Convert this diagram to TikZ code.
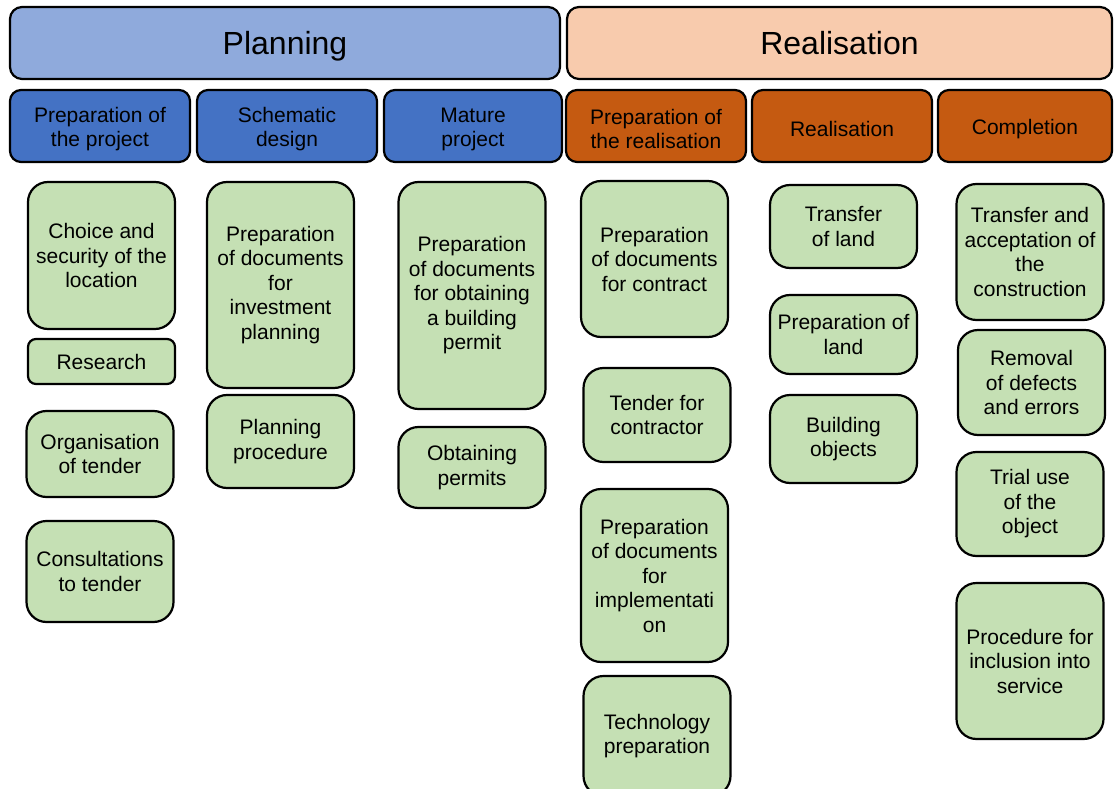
\documentclass[tikz,border=0pt]{standalone}
\usepackage{fontspec}
\setmainfont{Liberation Sans}
\definecolor{planblue}{HTML}{8FAADC}
\definecolor{stageblue}{HTML}{4472C4}
\definecolor{realpeach}{HTML}{F8CBAD}
\definecolor{stageorange}{HTML}{C55A11}
\definecolor{taskgreen}{HTML}{C5E0B4}
\newcommand{\stagetop}{\rule{0pt}{21pt}}
\begin{document}
\begin{tikzpicture}
[x=1pt, y=-1pt, every node/.style={inner sep=0pt, align=center, line width=2.2pt, draw=black},
 phase/.style={rounded corners=12pt, minimum height=72pt, text depth=0pt, font=\fontsize{32}{36}\selectfont},
 stage/.style={rounded corners=11pt, minimum height=72pt, font=\fontsize{21}{24.5}\selectfont},
 task/.style={rounded corners=20pt, fill=taskgreen, minimum width=147pt, font=\fontsize{21}{24.5}\selectfont}]
\useasboundingbox (0,0) rectangle (1114,789);
\clip (0,0) rectangle (1114,789);
% phases
\node (plan) [phase, fill=planblue, minimum width=550pt] at (285, 43) {Planning};
\node (realis) [phase, fill=realpeach, minimum width=545pt] at (839.5, 43) {Realisation};
% stages
\node (prepproj) [stage, fill=stageblue, minimum width=180pt] at (100, 126) {\stagetop Preparation of\\the project};
\node (schematic) [stage, fill=stageblue, minimum width=180pt] at (287, 126) {\stagetop Schematic\\design};
\node (mature) [stage, fill=stageblue, minimum width=178pt] at (473, 126) {\stagetop Mature\\project};
\node (preprealis) [stage, fill=stageorange, minimum width=180pt] at (656, 126) {\stagetop Preparation of\\the realisation};
\node (realisation) [stage, fill=stageorange, minimum width=180pt] at (842, 126) {\stagetop Realisation};
\node (completion) [stage, fill=stageorange, minimum width=174pt] at (1025, 126) {\stagetop Completion};
% tasks
\node (choice) [task, minimum height=147pt] at (101.5, 255.5) {Choice and\\security of the\\location};
\node (research) [task, rounded corners=8pt, minimum height=45pt] at (101.5, 361.5) {Research};
\node (orgtender) [task, minimum height=86pt] at (100, 454) {Organisation\\of tender};
\node (consult) [task, minimum height=101pt] at (100, 571.5) {Consultations\\to tender};
\node (docsinv) [task, minimum height=206pt] at (280.5, 285) {Preparation\\of documents\\for\\investment\\planning};
\node (planproc) [task, minimum height=93pt] at (280.5, 441.5) {Planning\\procedure};
\node (docspermit) [task, minimum height=227pt] at (472, 295.5) {Preparation\\of documents\\for obtaining\\a building\\permit};
\node (permits) [task, minimum height=81pt] at (472, 467.5) {Obtaining\\permits};
\node (docscontract) [task, minimum height=156pt] at (654.5, 259) {Preparation\\of documents\\for contract};
\node (tender) [task, minimum height=94pt] at (657, 415) {Tender for\\contractor};
\node (docsimpl) [task, minimum height=173pt] at (654.5, 575.5) {Preparation\\of documents\\for\\implementati\\on};
\node (techprep) [task, minimum height=120pt] at (657, 736) {Technology\\preparation};
\node (transfer) [task, minimum height=83pt] at (843.5, 226.5) {Transfer\\of land};
\node (prepland) [task, minimum height=79pt] at (843.5, 334.5) {Preparation of\\land};
\node (building) [task, minimum height=88pt] at (843.5, 439) {Building\\objects};
\node (accept) [task, minimum height=136pt] at (1030, 252) {Transfer and\\acceptation of\\the\\construction};
\node (removal) [task, minimum height=105pt] at (1031.5, 382.5) {Removal\\of defects\\and errors};
\node (trial) [task, minimum height=104pt] at (1030, 504) {Trial use\\of the\\object};
\node (inclusion) [task, minimum height=156pt] at (1030, 661) {Procedure for\\inclusion into\\service};
\end{tikzpicture}
\end{document}
